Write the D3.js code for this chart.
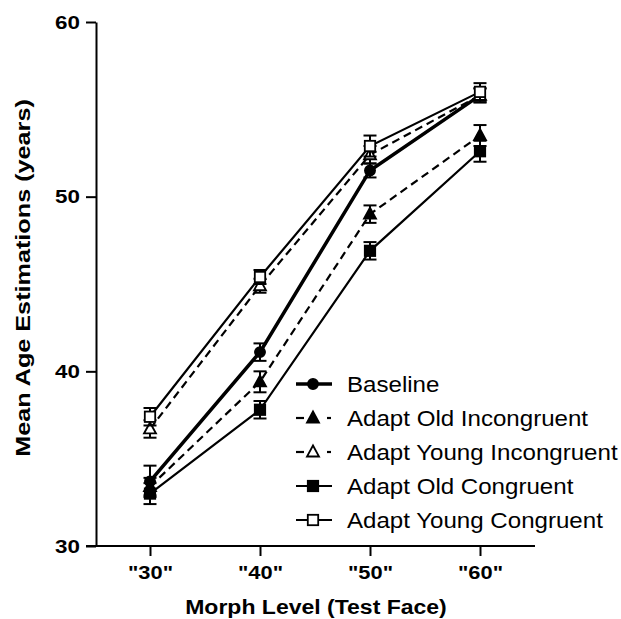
<!DOCTYPE html>
<html>
<head>
<meta charset="utf-8">
<script src="https://cdn.jsdelivr.net/npm/d3@7"></script>
<style>
  body { margin: 0; background: #fff; }
  svg { display: block; font-family: "Liberation Sans", Arial, sans-serif; }
</style>
</head>
<body>
<svg id="chart" width="621" height="619"></svg>
<script>
// morph levels on the x axis
const levels = ['"30"', '"40"', '"50"', '"60"'];
const yTicks = [30, 40, 50, 60];

// mean age estimations per condition, with error (SEM)
const baseline = [33.7, 41.1, 51.5, 55.8];
const baselineErr = [0.9, 0.5, 0.4, 0.4];
const adaptOldInc = [33.4, 39.4, 49.0, 53.5];
const adaptOldIncErr = [0.5, 0.6, 0.5, 0.6];
const adaptYoungInc = [36.7, 44.9, 52.4, 55.8];
const adaptYoungIncErr = [0.5, 0.4, 0.5, 0.4];
const adaptOldCon = [33.0, 37.8, 46.9, 52.6];
const adaptOldConErr = [0.6, 0.5, 0.5, 0.6];
const adaptYoungCon = [37.4, 45.4, 52.9, 56.0];
const adaptYoungConErr = [0.5, 0.4, 0.6, 0.5];

const series = [
  { name: "Baseline", vals: baseline, err: baselineErr, marker: "circle", fill: "#000", dash: null, width: 3.5 },
  { name: "Adapt Old Incongruent", vals: adaptOldInc, err: adaptOldIncErr, marker: "triangle", fill: "#000", dash: "8,5", width: 2.2 },
  { name: "Adapt Young Incongruent", vals: adaptYoungInc, err: adaptYoungIncErr, marker: "triangle", fill: "#fff", dash: "8,5", width: 2.2 },
  { name: "Adapt Old Congruent", vals: adaptOldCon, err: adaptOldConErr, marker: "square", fill: "#000", dash: null, width: 2.2 },
  { name: "Adapt Young Congruent", vals: adaptYoungCon, err: adaptYoungConErr, marker: "square", fill: "#fff", dash: null, width: 2.2 }
];

const svg = d3.select("#chart");

const x = d3.scalePoint().domain(levels).range([150, 480]);
const y = d3.scaleLinear().domain([30, 60]).range([546, 22]);

// stretch text horizontally, the original font runs wider than Arial
function stretch(sel, factor) {
  sel.each(function() {
    const w = this.getComputedTextLength();
    d3.select(this).attr("textLength", w * factor).attr("lengthAdjust", "spacingAndGlyphs");
  });
}

// ---- axes ----
const yAxis = svg.append("g")
  .attr("transform", "translate(96,0)")
  .call(d3.axisLeft(y).tickValues(yTicks).tickSize(10).tickSizeOuter(0).tickPadding(6));
yAxis.select(".domain").attr("stroke-width", 2);
yAxis.selectAll(".tick line").attr("stroke-width", 2);
yAxis.selectAll(".tick text")
  .attr("font-size", 19).attr("font-weight", "bold").attr("font-family", "Liberation Sans, Arial, sans-serif")
  .call(stretch, 1.18);

const xAxis = svg.append("g")
  .attr("transform", "translate(0,546)")
  .call(d3.axisBottom(x).tickSize(10).tickSizeOuter(0).tickPadding(10));
xAxis.select(".domain").remove();
xAxis.append("line")
  .attr("x1", 86).attr("x2", 535)
  .attr("stroke", "#000").attr("stroke-width", 2);
xAxis.selectAll(".tick line").attr("stroke-width", 2);
xAxis.selectAll(".tick text")
  .attr("font-size", 19).attr("font-weight", "bold").attr("font-family", "Liberation Sans, Arial, sans-serif")
  .call(stretch, 1.15);

// axis titles
svg.append("text")
  .attr("x", 316).attr("y", 614)
  .attr("text-anchor", "middle")
  .attr("font-size", 20).attr("font-weight", "bold")
  .text("Morph Level (Test Face)")
  .call(stretch, 1.15);

svg.append("text")
  .attr("transform", "translate(30,278) rotate(-90)")
  .attr("text-anchor", "middle")
  .attr("font-size", 21).attr("font-weight", "bold")
  .text("Mean Age Estimations (years)")
  .call(stretch, 1.2);

// marker drawing helper
function drawMarker(g, type, cx, cy, fill) {
  if (type === "circle") {
    g.append("circle").attr("cx", cx).attr("cy", cy).attr("r", 5.2)
      .attr("fill", fill).attr("stroke", "#000").attr("stroke-width", 1.5);
  } else if (type === "square") {
    g.append("rect").attr("x", cx - 5.2).attr("y", cy - 5.2).attr("width", 10.4).attr("height", 10.4)
      .attr("fill", fill).attr("stroke", "#000").attr("stroke-width", 1.8);
  } else {
    g.append("path")
      .attr("d", `M${cx},${cy - 6.5}L${cx + 6},${cy + 4.5}L${cx - 6},${cy + 4.5}Z`)
      .attr("fill", fill).attr("stroke", "#000").attr("stroke-width", 1.8);
  }
}

const line = d3.line().x((d, i) => x(levels[i])).y(d => y(d));

const plot = svg.append("g");

// lines first
series.forEach(s => {
  plot.append("path")
    .datum(s.vals)
    .attr("d", line)
    .attr("fill", "none")
    .attr("stroke", "#000")
    .attr("stroke-width", s.width)
    .attr("stroke-dasharray", s.dash);
});

// error bars and markers
series.forEach(s => {
  const g = plot.append("g");
  s.vals.forEach((v, i) => {
    const cx = x(levels[i]);
    const top = y(v + s.err[i]);
    const bot = y(v - s.err[i]);
    g.append("line").attr("x1", cx).attr("x2", cx).attr("y1", top).attr("y2", bot)
      .attr("stroke", "#000").attr("stroke-width", 2);
    [top, bot].forEach(yy => {
      g.append("line").attr("x1", cx - 6.5).attr("x2", cx + 6.5).attr("y1", yy).attr("y2", yy)
        .attr("stroke", "#000").attr("stroke-width", 2);
    });
    drawMarker(g, s.marker, cx, y(v), s.fill);
  });
});

// ---- legend ----
const legend = svg.append("g").attr("transform", "translate(296,384)");
series.forEach((s, i) => {
  const row = legend.append("g").attr("transform", `translate(0,${i * 34})`);
  if (s.dash) {
    row.append("line").attr("x1", 0).attr("x2", 8).attr("y1", 0).attr("y2", 0)
      .attr("stroke", "#000").attr("stroke-width", s.width);
    row.append("line").attr("x1", 31).attr("x2", 35).attr("y1", 0).attr("y2", 0)
      .attr("stroke", "#000").attr("stroke-width", s.width);
  } else {
    row.append("line").attr("x1", 0).attr("x2", 36).attr("y1", 0).attr("y2", 0)
      .attr("stroke", "#000").attr("stroke-width", s.width);
  }
  drawMarker(row, s.marker, 17, 0, s.fill);
  row.append("text")
    .attr("x", 51).attr("y", 0).attr("dy", "0.36em")
    .attr("font-size", 22)
    .text(s.name)
    .call(stretch, 1.095);
});
</script>
</body>
</html>
